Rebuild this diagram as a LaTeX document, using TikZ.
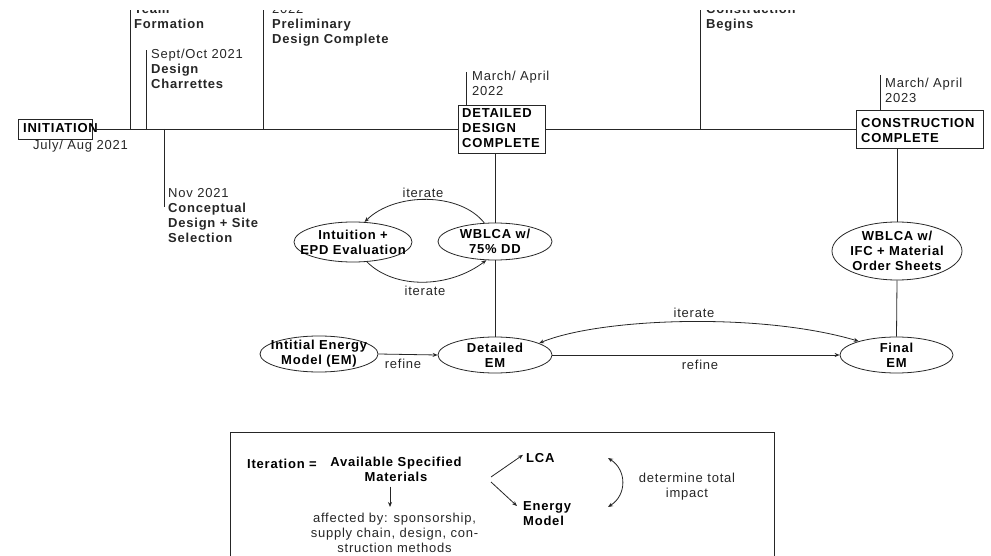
\documentclass[tikz,border=0pt]{standalone}
\usepackage{fontspec}
\setmainfont{Liberation Sans}[LetterSpace=6]
\usetikzlibrary{arrows.meta,shapes.geometric}
\newcommand\fstrut{\rule{0pt}{10pt}}
\begin{document}
\begin{tikzpicture}[x=1pt,y=-1pt,
 line/.style={draw=black!85, line width=0.8pt},
 arr/.style={line, -{Stealth[length=5pt,width=4pt]}},
 darr/.style={line, {Stealth[length=5pt,width=4pt]}-{Stealth[length=5pt,width=4pt]}},
 bt/.style={font=\fontsize{13}{15}\selectfont\bfseries, text=black, inner sep=0pt},
 rt/.style={font=\fontsize{13}{15}\selectfont, text=black!85, inner sep=0pt},
 tl/.style={align=left, anchor=north west},
 ell/.style={ellipse, line, inner sep=0pt},
 box/.style={rectangle, line, inner sep=0pt},
 lbl/.style={bt, align=center},
 elbl/.style={rt, inner sep=0pt},
]
\useasboundingbox (0,0) rectangle (991,556);
\clip (0,10.5) rectangle (991,556);

% --- timeline boxes
\node[box, minimum width=74pt, minimum height=20pt] (init) at (55,129) {};
\node[bt, anchor=base west] (initt) at (23,133) {INITIATION};
\node[box, minimum width=87pt, minimum height=48pt] (ddc) at (501.5,129) {};
\node[bt,tl] (ddct) at (462,107) {\fstrut DETAILED\\DESIGN\\COMPLETE};
\node[box, minimum width=127pt, minimum height=38pt] (cc) at (919.5,129) {};
\node[bt,tl] (cct) at (861,117) {\fstrut CONSTRUCTION\\COMPLETE};

\draw[line] (init.east) -- (ddc.west);
\draw[line] (ddc.east) -- (cc.west);

% --- milestone labels
\node[rt, anchor=base west] (ljul) at (33,150) {July/ Aug 2021};
\node[rt,tl] (lteam) at (134,3) {\fstrut\textbf{Team}\\\textbf{Formation}};
\node[rt,tl] (lsept) at (151,48) {\fstrut Sept/Oct 2021\\\textbf{Design}\\\textbf{Charrettes}};
\node[rt,tl] (lprel) at (272,3) {\fstrut 2022\\\textbf{Preliminary}\\\textbf{Design Complete}};
\node[rt,tl] (lnov) at (168,187) {\fstrut Nov 2021\\\textbf{Conceptual}\\\textbf{Design + Site}\\\textbf{Selection}};
\node[rt,tl] (lcons) at (706,3) {\fstrut\textbf{Construction}\\\textbf{Begins}};
\node[rt,tl] (ldd) at (472,70) {\fstrut March/ April\\2022};
\node[rt,tl] (lcc) at (885,77) {\fstrut March/ April\\2023};

% --- ticks
\coordinate (t1a) at (130,129);   \coordinate (t1b) at (130,5);
\coordinate (t2a) at (146.5,129); \coordinate (t2b) at (146.5,50);
\coordinate (t3a) at (263,129);   \coordinate (t3b) at (263,5);
\coordinate (t4a) at (164.5,129); \coordinate (t4b) at (164.5,207);
\coordinate (t5a) at (700,129);   \coordinate (t5b) at (700,5);
\coordinate (t6b) at (466,72);
\coordinate (t7b) at (880,75);
\draw[line] (t1a) -- (t1b);
\draw[line] (t2a) -- (t2b);
\draw[line] (t3a) -- (t3b);
\draw[line] (t4a) -- (t4b);
\draw[line] (t5a) -- (t5b);
\draw[line] (t6b) -- (t6b |- ddc.north);
\draw[line] (t7b) -- (t7b |- cc.north);

% --- ellipses
\node[ell, minimum width=118pt, minimum height=40pt,
  label={[lbl]center:Intuition +\\EPD Evaluation}] (intu) at (353,242) {};
\node[ell, minimum width=114pt, minimum height=37pt,
  label={[lbl]center:WBLCA w/\\75\% DD}] (wb) at (495,241.5) {};
\node[ell, minimum width=130pt, minimum height=58pt,
  label={[lbl]center:WBLCA w/\\IFC + Material\\Order Sheets}] (wbifc) at (897,251) {};
\node[ell, minimum width=118pt, minimum height=36pt,
  label={[lbl]center:Intitial Energy\\Model (EM)}] (iem) at (319,354) {};
\node[ell, minimum width=114pt, minimum height=36pt,
  label={[lbl]center:Detailed\\EM}] (dem) at (495,355) {};
\node[ell, minimum width=113pt, minimum height=36pt,
  label={[lbl]center:Final\\EM}] (fem) at (896.5,355) {};

% --- vertical links
\draw[line] (wb.north |- ddc.south) -- (wb.north);
\draw[line] (wb.south) -- (dem.north);
\draw[line] (wbifc.north |- cc.south) -- (wbifc.north);
\draw[line] (wbifc.south) -- (fem.north);

% --- arrows
\draw[arr] (iem.east) -- (dem.west);
\node[elbl] (r1) at (403,364) {refine};
\draw[arr] (dem.east) -- (fem.west);
\node[elbl] (r2) at (700,365) {refine};
\draw[darr] (dem.15) .. controls (600,318) and (760,312) .. (fem.160);
\node[elbl] (i3) at (694,313) {iterate};
\draw[arr] (wb.120) .. controls (460,192) and (395,192) .. (intu.60);
\node[elbl] (i1) at (423,193) {iterate};
\draw[arr] (intu.-55) .. controls (395,290) and (450,288) .. (wb.-115);
\node[elbl] (i2) at (425,291) {iterate};

% --- legend
\node[box, anchor=north west, minimum width=544pt, minimum height=170pt] (legend) at (230,432) {};
\node[bt, anchor=base west] (iter) at (247,468) {Iteration =};
\node[bt, align=center, anchor=north] (avm) at (396,456) {\fstrut Available Specified\\Materials};
\node[rt, align=center, anchor=north] (aff) at (394.5,512) {\fstrut affected by: sponsorship,\\supply chain, design, con-\\struction methods};
\draw[arr] ([xshift=-6pt,yshift=-5pt]avm.south) -- ([xshift=-4.5pt,yshift=5pt]aff.north);
\node[bt, anchor=base west] (lca) at (526,462) {LCA};
\node[bt, tl] (em) at (523,500) {\fstrut Energy\\Model};
\coordinate (sp1) at (491,477);
\coordinate (sp2) at (491,482);
\draw[arr] (sp1) -- ([xshift=-3pt,yshift=2.7pt]lca.west);
\draw[arr] (sp2) -- ([xshift=-6pt,yshift=-6pt]em.north west);
\coordinate (dt1) at (608,458);
\coordinate (dt2) at (608,507);
\draw[darr] (dt1) .. controls (627,470) and (627,495) .. (dt2);
\node[rt, align=center, anchor=north] (det) at (687,472) {\fstrut determine total\\impact};
\end{tikzpicture}
\end{document}
